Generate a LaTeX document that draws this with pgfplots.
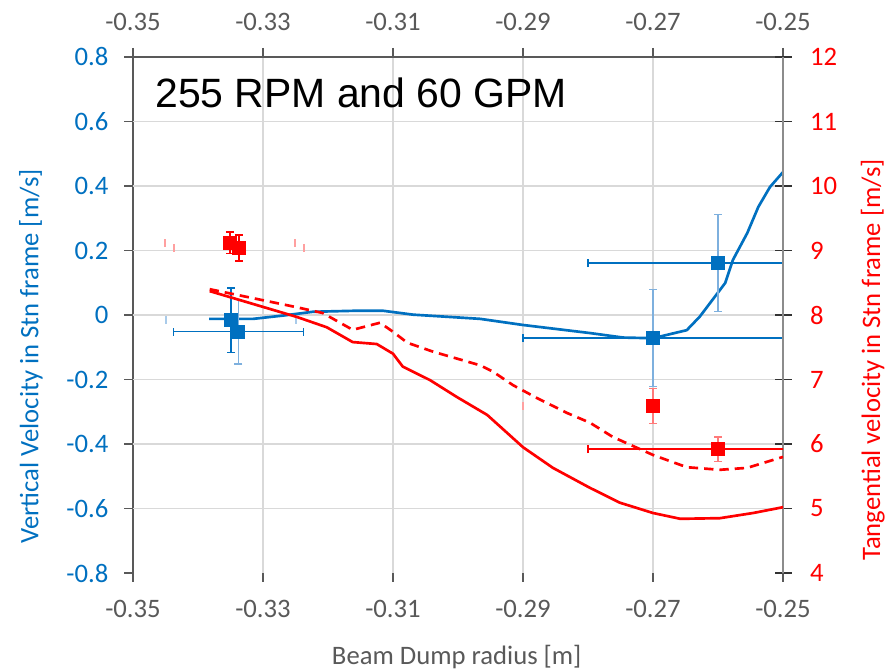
\documentclass[border=0pt]{standalone}
\usepackage{pgfplots}
\pgfplotsset{compat=1.18}
\usepackage{fontspec}
\setmainfont{Carlito}
\newfontfamily\arialfont{Liberation Sans}
\definecolor{xblue}{HTML}{0070C0}
\definecolor{lblue}{HTML}{7EB0DE}
\definecolor{fblue}{HTML}{A9CBEA}
\definecolor{xred}{HTML}{FF0000}
\definecolor{lred}{HTML}{FF7A7A}
\definecolor{fred}{HTML}{FFA0A0}
\definecolor{axgray}{HTML}{595959}
\definecolor{lgray}{HTML}{8C8C8C}
\definecolor{gridgray}{HTML}{D9D9D9}
\newcommand{\tfont}{\fontsize{20}{24}\selectfont}
\pgfplotsset{
  common/.style={
    at={(99.75pt,73.5pt)}, anchor=south west, scale only axis,
    width=487.5pt, height=387pt,
    xmin=-0.35, xmax=-0.25,
    xtick={-0.35,-0.33,-0.31,-0.29,-0.27,-0.25},
    xticklabels={-0.35,-0.33,-0.31,-0.29,-0.27,-0.25},
    xticklabel style={font=\tfont, text=axgray},
  },
}
\begin{document}
\begin{tikzpicture}
\path[use as bounding box] (0,0) rectangle (672pt,503.25pt);
% ---------- axis 1: vertical velocity (left), top x axis
\begin{axis}[common,
  ymin=-0.8, ymax=0.8,
  axis x line*=top, axis y line*=left,
  axis line style={-, axgray, line width=1.1pt},
  y axis line style={shorten <=-6.75pt},
  tick align=outside, major tick length=6.75pt,
  tick style={axgray, line width=1.1pt},
  xticklabel style={yshift=9.75pt},
  xmajorgrids, grid style={gridgray, line width=1.1pt},
  ytick={-0.8,-0.6,-0.4,-0.2,0,0.2,0.4,0.6,0.8},
  yticklabels={-0.8,-0.6,-0.4,-0.2,0,0.2,0.4,0.6,0.8},
  yticklabel style={font=\tfont, text=xblue, xshift=-8.25pt},
  extra y ticks={-0.6,-0.4,-0.2,0,0.2,0.4,0.6},
  extra y tick labels={},
  extra y tick style={grid=major, major tick length=0pt},
  ylabel={Vertical Velocity in Stn frame [m/s]},
  ylabel style={at={(rel axis cs:-0.157,0.42)}, anchor=center, font=\tfont, text=xblue},
]
\addplot[xblue, line width=2pt, line join=round] coordinates {
(-0.3383,-0.012) (-0.3315,-0.012) (-0.3270,-0.002) (-0.3223,0.010) (-0.3160,0.013)
(-0.3115,0.013) (-0.3069,0.001) (-0.2966,-0.012) (-0.2900,-0.031) (-0.2797,-0.056)
(-0.2746,-0.070) (-0.2700,-0.072) (-0.2648,-0.047) (-0.2628,-0.005) (-0.2589,0.099)
(-0.2577,0.171) (-0.2555,0.254) (-0.2538,0.335) (-0.2520,0.397) (-0.2500,0.443)};
% faint horizontal bar of first point
\addplot[only marks, mark=none, error bars/.cd, x dir=both, x explicit,
  error bar style={draw=fblue, draw opacity=0, line width=1.1pt},
  error mark options={rotate=90, draw=fblue, draw opacity=1, line width=1.1pt, mark size=3pt}]
  coordinates {(-0.3349,-0.016) +- (0.01,0)};
% light vertical bars
\addplot[only marks, mark=none, error bars/.cd, y dir=both, y explicit,
  error bar style={draw=lblue, line width=1.1pt},
  error mark options={rotate=90, draw=lblue, line width=1.1pt, mark size=3pt}]
  coordinates {(-0.3338,-0.052) +- (0,0.10) (-0.27,-0.071) +- (0,0.15) (-0.26,0.161) +- (0,0.15)};
% dark vertical bar
\addplot[only marks, mark=none, error bars/.cd, y dir=both, y explicit,
  error bar style={draw=xblue, line width=1.1pt},
  error mark options={rotate=90, draw=xblue, line width=1.1pt, mark size=3pt}]
  coordinates {(-0.3349,-0.016) +- (0,0.10)};
% dark horizontal bars
\addplot[only marks, mark=none, error bars/.cd, x dir=both, x explicit,
  error bar style={draw=xblue, line width=1.1pt},
  error mark options={rotate=90, draw=xblue, line width=1.1pt, mark size=3pt}]
  coordinates {(-0.3338,-0.052) +- (0.01,0) (-0.27,-0.071) +- (0.02,0) (-0.26,0.161) +- (0.02,0)};
\addplot[only marks, mark=square*, mark size=4.8pt, xblue, mark options={draw=xblue, fill=xblue}]
  coordinates {(-0.3349,-0.016) (-0.3338,-0.052) (-0.27,-0.071) (-0.26,0.161)};
\end{axis}
% ---------- axis 2: tangential velocity (right)
\begin{axis}[common,
  ymin=4, ymax=12,
  axis x line=none, axis y line*=right,
  axis line style={-, lgray, line width=1.1pt},
  y axis line style={shorten <=-6.75pt},
  ytick align=center, major tick length=12.75pt,
  tick style={black!80, line width=1.1pt},
  ytick={4,5,6,7,8,9,10,11,12},
  yticklabels={4,5,6,7,8,9,10,11,12},
  yticklabel style={font=\tfont, text=xred, xshift=10.5pt},
  ylabel={Tangential velocity in Stn frame [m/s]},
  ylabel style={at={(rel axis cs:1.138,0.413)}, anchor=center, font=\tfont, text=xred},
]
\addplot[xred, line width=2pt, line join=round] coordinates {
(-0.3382,8.37) (-0.3248,7.97) (-0.3202,7.81) (-0.3162,7.58) (-0.3125,7.55) (-0.3100,7.40)
(-0.3085,7.20) (-0.3043,6.99) (-0.3002,6.73) (-0.2955,6.45) (-0.2900,5.95) (-0.2854,5.63)
(-0.2797,5.32) (-0.2751,5.09) (-0.2700,4.93) (-0.2658,4.84) (-0.2597,4.85) (-0.2546,4.93)
(-0.2500,5.02)};
\addplot[xred, line width=2pt, line join=round, dash pattern=on 7pt off 4.5pt] coordinates {
(-0.3382,8.40) (-0.3248,8.12) (-0.3208,8.03) (-0.3162,7.77) (-0.3120,7.88) (-0.3100,7.74)
(-0.3078,7.57) (-0.3038,7.43) (-0.2966,7.22) (-0.2946,7.12) (-0.2915,6.91) (-0.2878,6.71)
(-0.2832,6.48) (-0.2797,6.33) (-0.2762,6.11) (-0.2700,5.83) (-0.2648,5.64) (-0.2597,5.60)
(-0.2555,5.63) (-0.2500,5.80)};
% faint horizontal caps
\addplot[only marks, mark=none, error bars/.cd, x dir=both, x explicit,
  error bar style={draw=fred, draw opacity=0, line width=1.1pt},
  error mark options={rotate=90, draw=fred, draw opacity=1, line width=1.1pt, mark size=3pt}]
  coordinates {(-0.3351,9.12) +- (0.01,0) (-0.3337,9.04) +- (0.01,0)};
\addplot[only marks, mark=none, error bars/.cd, x dir=minus, x explicit,
  error bar style={draw=fred, draw opacity=0, line width=1.1pt},
  error mark options={rotate=90, draw=fred, draw opacity=1, line width=1.1pt, mark size=3pt}]
  coordinates {(-0.27,6.59) +- (0.02,0)};
% vertical bars
\addplot[only marks, mark=none, error bars/.cd, y dir=both, y explicit,
  error bar style={draw=xred, line width=1.1pt},
  error mark options={rotate=90, draw=xred, line width=1.1pt, mark size=3pt}]
  coordinates {(-0.3351,9.12) +- (0,0.17) (-0.3337,9.04) +- (0,0.20)};
\addplot[only marks, mark=none, error bars/.cd, y dir=both, y explicit,
  error bar style={draw=lred, line width=1.1pt},
  error mark options={rotate=90, draw=lred, line width=1.1pt, mark size=3pt}]
  coordinates {(-0.27,6.59) +- (0,0.27) (-0.26,5.92) +- (0,0.19)};
\addplot[only marks, mark=none, error bars/.cd, x dir=both, x explicit,
  error bar style={draw=xred, line width=1.1pt},
  error mark options={rotate=90, draw=xred, line width=1.1pt, mark size=3pt}]
  coordinates {(-0.26,5.92) +- (0.02,0)};
\addplot[only marks, mark=square*, mark size=4.8pt, xred, mark options={draw=xred, fill=xred}]
  coordinates {(-0.3351,9.12) (-0.3337,9.04) (-0.27,6.59) (-0.26,5.92)};
\end{axis}
% ---------- axis 3: bottom x axis
\begin{axis}[common,
  ymin=0, ymax=1,
  axis x line*=bottom, axis y line=none,
  x axis line style={draw=none},
  xtick align=outside, major tick length=6.75pt,
  tick style={axgray, line width=1.1pt},
  xticklabel style={yshift=-9.75pt},
  xlabel={Beam Dump radius [m]},
  xlabel style={at={(rel axis cs:0.498,-0.163)}, anchor=center, font=\tfont, text=axgray},
]
\end{axis}
\node[font=\arialfont\fontsize{30.7}{36}\selectfont, anchor=base west, inner sep=0pt]
  at (116.25pt,422.25pt) {255 RPM and 60 GPM};
\end{tikzpicture}
\end{document}
